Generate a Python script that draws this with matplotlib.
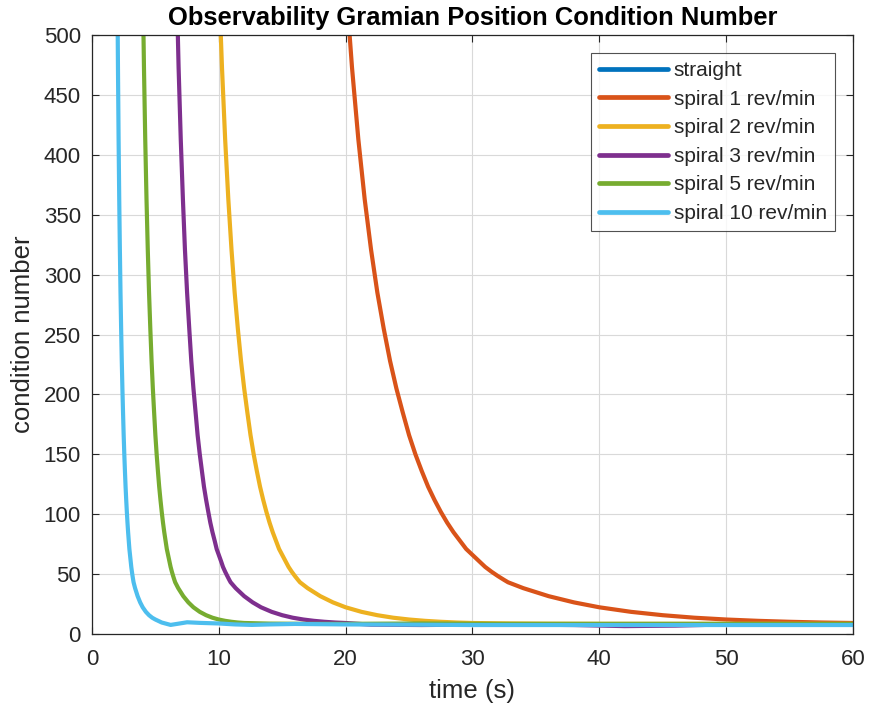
import numpy as np
import matplotlib
matplotlib.use("Agg")
import matplotlib.pyplot as plt

plt.rcParams['font.family'] = ['Liberation Sans', 'DejaVu Sans']

# Position condition number of the observability Gramian vs. time
labels = ["straight", "spiral 1 rev/min", "spiral 2 rev/min", "spiral 3 rev/min",
          "spiral 5 rev/min", "spiral 10 rev/min"]
colors = ["#0072BD", "#D95319", "#EDB120", "#7E2F8E", "#77AC30", "#4DBEEE"]

# straight path: Gramian is (near) singular, condition number is off the scale
t_straight = [0, 60]
c_straight = [1e16, 1e16]

t_rev1 = [20.0, 20.5, 21.0, 21.5, 22.0, 22.5, 23.0, 23.5, 24.0, 24.5, 25.0, 25.5,
          26.0, 26.5, 27.0, 27.5, 28.0, 28.5, 29.0, 29.5, 30.0, 30.5, 31.0, 31.5,
          32.0, 32.5, 32.8, 34.0, 36.0, 38.0, 40.0, 42.5, 45.0, 47.5, 50.0, 52.5,
          55.0, 57.5, 60.0]
c_rev1 = [545, 473, 413, 363, 321, 285, 255, 228, 205, 185, 166, 150,
          136, 123, 112, 102, 93, 85, 78, 71, 66, 61, 56, 52,
          48.4, 45.1, 43.2, 38.3, 31.6, 26.4, 22.3, 18.5, 15.7, 13.6, 12.1, 11.0,
          10.2, 9.6, 9.2]

t_rev2 = [10.0, 10.25, 10.5, 10.75, 11.0, 11.25, 11.5, 11.75, 12.0, 12.25, 12.5,
          12.75, 13.0, 13.25, 13.5, 13.75, 14.0, 14.25, 14.5, 14.75, 15.0, 15.25,
          15.5, 15.75, 16.0, 16.25, 16.4, 17.0, 18.0, 19.0, 20.0, 21.25, 22.5,
          23.75, 25.0, 26.25, 27.5, 28.75, 30.0, 33.0, 36.0, 40.0, 45.0, 50.0,
          55.0, 60.0]
c_rev2 = [545, 473, 413, 363, 321, 285, 255, 228, 205, 185, 166,
          150, 136, 123, 112, 102, 93, 85, 78, 71, 66, 61,
          56, 52, 48.4, 45.1, 43.2, 38.3, 31.6, 26.4, 22.3, 18.5, 15.7,
          13.6, 12.1, 11.0, 10.2, 9.6, 9.2, 8.8, 8.6, 8.5, 8.5, 8.5,
          8.5, 8.5]

t_rev3 = [6.67, 6.83, 7.0, 7.17, 7.33, 7.5, 7.67, 7.83, 8.0, 8.17, 8.33, 8.5,
          8.67, 8.83, 9.0, 9.17, 9.33, 9.5, 9.67, 9.83, 10.0, 10.17, 10.33, 10.5,
          10.67, 10.83, 10.93, 11.33, 12.0, 12.67, 13.33, 14.17, 15.0, 15.83,
          16.67, 17.5, 18.33, 19.17, 20.0, 22.0, 26.0, 32.0, 38.0, 42.0, 46.0,
          50.0, 55.0, 60.0]
c_rev3 = [545, 473, 413, 363, 321, 285, 255, 228, 205, 185, 166, 150,
          136, 123, 112, 102, 93, 85, 78, 71, 66, 61, 56, 52,
          48.4, 45.1, 43.2, 38.3, 31.6, 26.4, 22.3, 18.5, 15.7, 13.6,
          12.1, 11.0, 10.2, 9.6, 9.2, 7.8, 7.5, 8.0, 7.5, 6.6, 7.0,
          8.0, 8.0, 8.0]

t_rev5 = [4.0, 4.1, 4.2, 4.3, 4.4, 4.5, 4.6, 4.7, 4.8, 4.9, 5.0, 5.1,
          5.2, 5.3, 5.4, 5.5, 5.6, 5.7, 5.8, 5.9, 6.0, 6.1, 6.2, 6.3,
          6.4, 6.5, 6.56, 6.8, 7.2, 7.6, 8.0, 8.5, 9.0, 9.5, 10.0, 10.5,
          11.0, 11.5, 12.0, 14.0, 17.0, 20.0, 26.0, 32.0, 40.0, 50.0, 60.0]
c_rev5 = [545, 473, 413, 363, 321, 285, 255, 228, 205, 185, 166, 150,
          136, 123, 112, 102, 93, 85, 78, 71, 66, 61, 56, 52,
          48.4, 45.1, 43.2, 38.3, 31.6, 26.4, 22.3, 18.5, 15.7, 13.6, 12.1, 11.0,
          10.2, 9.6, 9.2, 8.7, 8.5, 8.5, 8.8, 8.5, 8.5, 8.5, 8.5]

t_rev10 = [2.0, 2.05, 2.1, 2.15, 2.2, 2.25, 2.3, 2.35, 2.4, 2.45, 2.5, 2.55,
           2.6, 2.65, 2.7, 2.75, 2.8, 2.85, 2.9, 2.95, 3.0, 3.05, 3.1, 3.15,
           3.2, 3.25, 3.28, 3.4, 3.6, 3.8, 4.0, 4.25, 4.5, 4.75, 5.0, 5.5,
           6.2, 6.8, 7.5, 8.5, 10.0, 11.3, 12.6, 14.0, 16.0, 20.0, 25.0, 30.0,
           35.0, 40.0, 45.0, 50.0, 55.0, 60.0]
c_rev10 = [545, 473, 413, 363, 321, 285, 255, 228, 205, 185, 166, 150,
           136, 123, 112, 102, 93, 85, 78, 71, 66, 61, 56, 52,
           48.4, 45.1, 43.2, 38.3, 31.6, 26.4, 22.3, 18.5, 15.7, 13.6, 12.1, 9.6,
           7.6, 8.6, 9.8, 9.3, 8.8, 8.0, 7.6, 8.0, 8.4, 8.0, 7.8, 7.5,
           7.5, 7.5, 7.5, 7.5, 7.5, 7.5]

series = [(t_straight, c_straight), (t_rev1, c_rev1), (t_rev2, c_rev2),
          (t_rev3, c_rev3), (t_rev5, c_rev5), (t_rev10, c_rev10)]

x_ticks = [0, 10, 20, 30, 40, 50, 60]
y_ticks = [0, 50, 100, 150, 200, 250, 300, 350, 400, 450, 500]

fig = plt.figure(figsize=(8.7, 7.08), dpi=100)
ax = fig.add_axes([0.1057, 0.1045, 0.8748, 0.846])

for (t, c), lab, col in zip(series, labels, colors):
    ax.plot(t, c, color=col, lw=3.0, label=lab, solid_joinstyle='round',
            solid_capstyle='round')

ax.set_xlim(0, 60)
ax.set_ylim(0, 500)
ax.set_xticks(x_ticks)
ax.set_yticks(y_ticks)
ax.tick_params(labelsize=16, colors='#262626', direction='in', length=5,
               width=0.8, top=True, right=True)
ax.tick_params(axis='x', pad=11)
ax.tick_params(axis='y', pad=8)
ax.grid(True, color='#d9d9d9', lw=0.8)
ax.set_axisbelow(True)
for s in ax.spines.values():
    s.set_color('#262626')
    s.set_linewidth(0.9)

ax.set_xlabel("time (s)", fontsize=18.5, color='#262626', labelpad=6)
ax.set_ylabel("condition number", fontsize=18.5, color='#262626', labelpad=6)
ax.set_title("Observability Gramian Position Condition Number", fontsize=18.4,
             fontweight='bold', color='#000000', pad=7)

leg = ax.legend(loc='upper right', fontsize=15, frameon=True, fancybox=False,
                edgecolor='#262626', handlelength=3.3, handletextpad=0.3,
                borderaxespad=0.85, labelspacing=0.46, borderpad=0.4)
leg.get_frame().set_linewidth(0.8)
for line in leg.get_lines():
    line.set_linewidth(3.4)
for txt in leg.get_texts():
    txt.set_color('#262626')

fig.savefig("out.png", dpi=100, facecolor='white')
